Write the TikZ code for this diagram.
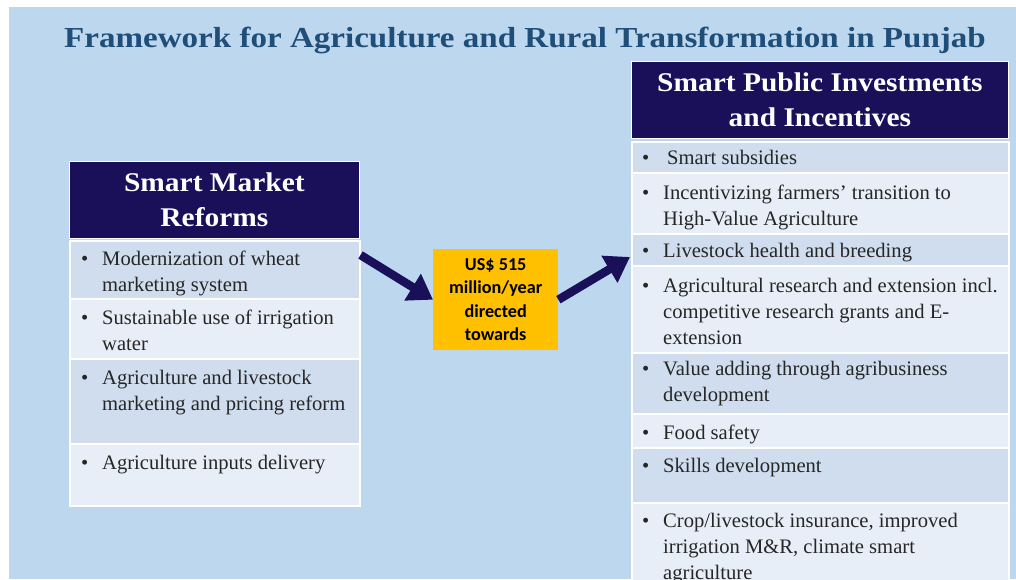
\documentclass[tikz,border=0pt]{standalone}
\usepackage{fontspec}
\setmainfont{Liberation Serif}
\newfontfamily\calfont{Carlito}
\newfontfamily\titlefont[FakeStretch=1.14]{Liberation Serif}
\newfontfamily\hdrfont[FakeStretch=1.09]{Liberation Serif}
\usetikzlibrary{arrows.meta,calc}
\definecolor{bg}{HTML}{BDD7EE}
\definecolor{navy}{HTML}{1A1059}
\definecolor{rowd}{HTML}{CFDDEE}
\definecolor{rowl}{HTML}{E8EEF7}
\definecolor{titleblue}{HTML}{1F4E79}
\definecolor{gold}{HTML}{FFC000}
\definecolor{txt}{HTML}{262626}
\newcommand\mybul{\llap{\makebox[21pt][l]{\textbullet}}}
\begin{document}
\begin{tikzpicture}[x=1pt,y=-1pt,
  hdr/.style={fill=navy, draw=white, line width=0.8pt, anchor=north west, inner sep=0pt,
    text=white, align=center, font=\hdrfont\fontsize{27}{35}\selectfont\bfseries},
  rowd/.style={fill=rowd, draw=white, line width=1.5pt, anchor=north west, inner sep=0pt},
  rowl/.style={fill=rowl, draw=white, line width=1.5pt, anchor=north west, inner sep=0pt},
  itm/.style={anchor=north west, inner sep=0pt, align=left, text=txt,
    font=\fontsize{20.6}{26}\selectfont},
  arw/.style={draw=navy, line width=8.5pt, -{Triangle[length=24pt,width=30pt]}},
]
\useasboundingbox (0,0) rectangle (1016,579);
\clip (0,0) rectangle (1016,579);
\fill[white] (0,0) rectangle (1016,579);
\fill[bg] (9,7) rectangle (1016,579);

\node[text=titleblue, font=\titlefont\fontsize{29}{34}\selectfont\bfseries] (title) at (525,40)
  {Framework for Agriculture and Rural Transformation in Punjab};

% Left box
\node[hdr, minimum width=290pt, minimum height=77pt] (LH) at (69,161) {Smart Market\\Reforms};
\node[rowd, minimum width=290pt, minimum height=58pt] (L1) at (69,240) {};
\node[rowl, minimum width=290pt, minimum height=60pt] (L2) at (69,298) {};
\node[rowd, minimum width=290pt, minimum height=85pt] (L3) at (69,358) {};
\node[rowl, minimum width=290pt, minimum height=62pt] (L4) at (69,443) {};
\node[itm] (L1t) at (102,247.4) {\strut\mybul Modernization of wheat\\marketing system};
\node[itm] (L2t) at (102,306.4) {\strut\mybul Sustainable use of irrigation\\water};
\node[itm] (L3t) at (102,366.4) {\strut\mybul Agriculture and livestock\\marketing and pricing reform};
\node[itm] (L4t) at (102,451.4) {\strut\mybul Agriculture inputs delivery};

% Right box
\node[hdr, minimum width=377pt, minimum height=77pt] (RH) at (631,61) {Smart Public Investments\\and Incentives};
\node[rowd, minimum width=377pt, minimum height=31pt] (R1) at (631,141) {};
\node[rowl, minimum width=377pt, minimum height=61pt] (R2) at (631,172) {};
\node[rowd, minimum width=377pt, minimum height=32pt] (R3) at (631,233) {};
\node[rowl, minimum width=377pt, minimum height=87pt] (R4) at (631,265) {};
\node[rowd, minimum width=377pt, minimum height=61pt] (R5) at (631,352) {};
\node[rowl, minimum width=377pt, minimum height=34pt] (R6) at (631,413) {};
\node[rowd, minimum width=377pt, minimum height=55pt] (R7) at (631,447) {};
\node[rowl, minimum width=377pt, minimum height=100pt] (R8) at (631,502) {};
\node[itm] (R1t) at (663,146.4) {\strut\mybul\hspace{4pt}Smart subsidies};
\node[itm] (R2t) at (663,181.4) {\strut\mybul Incentivizing farmers’ transition to\\High-Value Agriculture};
\node[itm] (R3t) at (663,239.4) {\strut\mybul Livestock health and breeding};
\node[itm] (R4t) at (663,274.4) {\strut\mybul Agricultural research and extension incl.\\competitive research grants and E-\\extension};
\node[itm] (R5t) at (663,357.4) {\strut\mybul Value adding through agribusiness\\development};
\node[itm] (R6t) at (663,421.4) {\strut\mybul Food safety};
\node[itm] (R7t) at (663,454.4) {\strut\mybul Skills development};
\node[itm] (R8t) at (663,509.4) {\strut\mybul Crop/livestock insurance, improved\\irrigation M\&R, climate smart\\agriculture};

% Centre box
\node[fill=gold, anchor=north west, minimum width=125pt, minimum height=101pt, inner sep=0pt,
  align=center, text=black, font=\calfont\fontsize{18.2}{23.5}\selectfont\bfseries] (gold) at (433,249)
  {US\$ 515\\million/year\\directed\\towards};

\coordinate (a1) at ($(L1.north east)+(0,15)$);
\coordinate (a2) at ($(R3.north west)+(-1,24)$);
\draw[arw] (a1) -- (gold.west);
\draw[arw] (gold.east) -- (a2);
\end{tikzpicture}
\end{document}
